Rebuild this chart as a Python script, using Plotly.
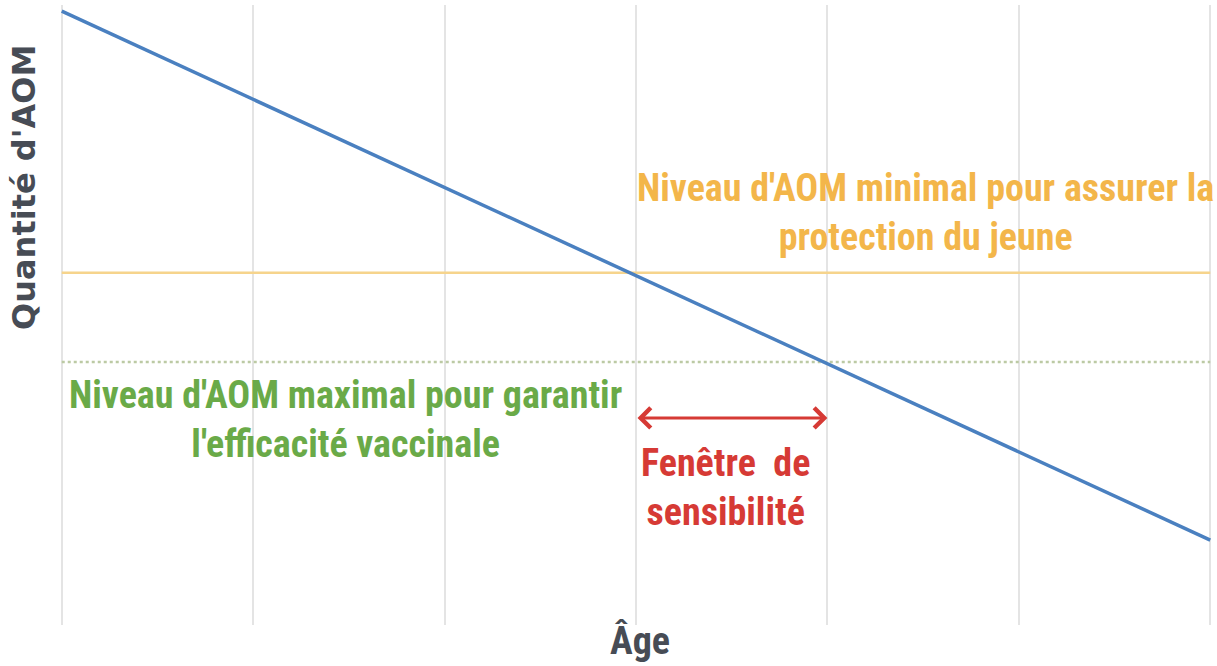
import plotly.graph_objects as go

# Data
age = [0, 6]
aom = [9.9, 1.37]
niveau_min = 5.68
niveau_max = 4.24
fenetre = [3, 4]
fenetre_y = 3.34
x_ticks = [0, 1, 2, 3, 4, 5, 6]

FONT = "Roboto Condensed, Open Sans Condensed, sans-serif"
BLUE = "#4a80c0"
YELLOW_LINE = "#f6d48c"
YELLOW_TXT = "#f3b64a"
GREEN_LINE = "#bccaa4"
GREEN_TXT = "#6aaa48"
RED = "#d63a35"
DARK = "#474c55"

fig = go.Figure()

fig.add_trace(go.Scatter(x=[age[0], age[1]], y=[niveau_min, niveau_min], mode="lines",
                         line=dict(color=YELLOW_LINE, width=2.5), hoverinfo="skip", showlegend=False))
fig.add_trace(go.Scatter(x=[age[0], age[1]], y=[niveau_max, niveau_max], mode="lines",
                         line=dict(color=GREEN_LINE, width=2.5, dash="dot"), hoverinfo="skip", showlegend=False))
fig.add_trace(go.Scatter(x=age, y=aom, mode="lines",
                         line=dict(color=BLUE, width=3.5), showlegend=False))

# Double arrow
fig.add_annotation(x=fenetre[1], y=fenetre_y, ax=fenetre[0], ay=fenetre_y,
                   xref="x", yref="y", axref="x", ayref="y", text="",
                   showarrow=True, arrowhead=4, startarrowhead=4, arrowside="end+start",
                   arrowwidth=3, arrowsize=1.3, startarrowsize=1.3, arrowcolor=RED)

fig.add_annotation(x=4.51, y=6.65, xref="x", yref="y", showarrow=False,
                   text="Niveau d'AOM minimal pour assurer la<br>protection du jeune",
                   font=dict(family=FONT, size=38, color=YELLOW_TXT, weight="bold"),
                   align="center", xanchor="center", yanchor="middle")
fig.add_annotation(x=1.48, y=3.31, xref="x", yref="y", showarrow=False,
                   text="Niveau d'AOM maximal pour garantir<br>l'efficacité vaccinale",
                   font=dict(family=FONT, size=38, color=GREEN_TXT, weight="bold"),
                   align="center", xanchor="center", yanchor="middle")
fig.add_annotation(x=3.47, y=2.21, xref="x", yref="y", showarrow=False,
                   text="Fenêtre  de<br>sensibilité",
                   font=dict(family=FONT, size=38, color=RED, weight="bold"),
                   align="center", xanchor="center", yanchor="middle")

# Axis titles
fig.add_annotation(x=-0.027, y=0.706, xref="paper", yref="paper", showarrow=False,
                   text="Quantité d'AOM", textangle=-90,
                   font=dict(family="DejaVu Sans, sans-serif", size=32, color=DARK, weight="bold"),
                   xanchor="center", yanchor="middle")
fig.add_annotation(x=3.02, y=-0.025, xref="x", yref="paper", showarrow=False,
                   text="Âge",
                   font=dict(family=FONT, size=38, color=DARK, weight="bold"),
                   xanchor="center", yanchor="middle")

fig.update_xaxes(range=[-0.03, 6.03], tickvals=x_ticks, showticklabels=False,
                 showgrid=True, gridcolor="#e4e4e4", gridwidth=2, zeroline=False, showline=False)
fig.update_yaxes(range=[0, 10], showticklabels=False, showgrid=False, zeroline=False, showline=False)

fig.update_layout(width=1217, height=666, margin=dict(l=56, r=1, t=5, b=41),
                  plot_bgcolor="white", paper_bgcolor="white")

fig.write_html("out.html", config={"displayModeBar": False},
               post_script="document.body.style.margin='0';document.body.style.overflow='hidden';")
